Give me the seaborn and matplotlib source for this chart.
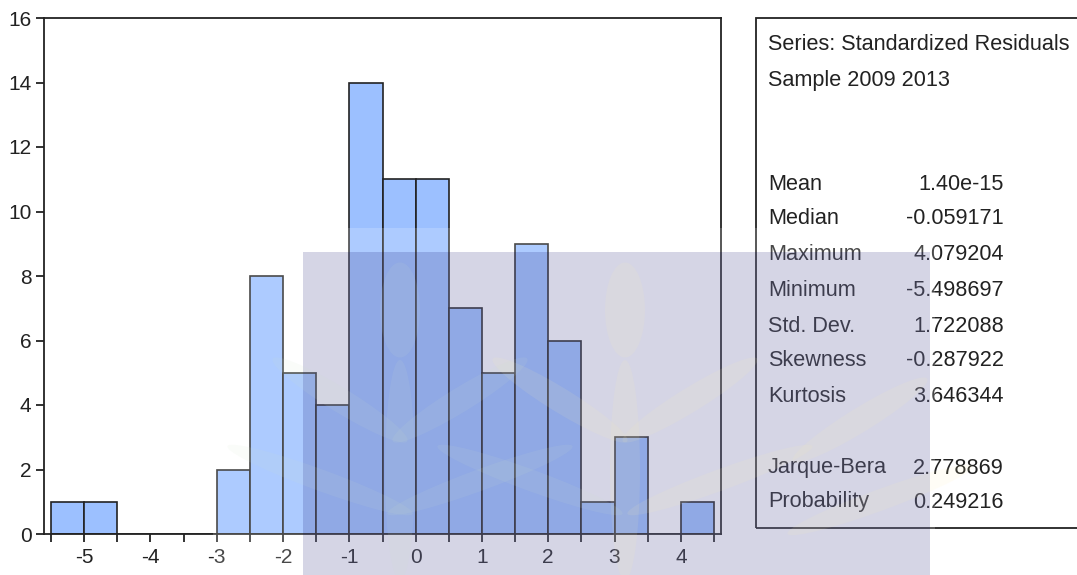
import numpy as np
import pandas as pd
import seaborn as sns
import matplotlib
matplotlib.use("Agg")
import matplotlib.pyplot as plt
from matplotlib.patches import Rectangle, Ellipse
from matplotlib import font_manager

# ---- data ----
bin_edges = [-5.5, -5.0, -4.5, -4.0, -3.5, -3.0, -2.5, -2.0, -1.5, -1.0, -0.5,
             0.0, 0.5, 1.0, 1.5, 2.0, 2.5, 3.0, 3.5, 4.0, 4.5]
counts = [1, 1, 0, 0, 0, 2, 8, 5, 4, 14, 11, 11, 7, 5, 9, 6, 1, 3, 0, 1]
stat_labels = ["Mean", "Median", "Maximum", "Minimum", "Std. Dev.", "Skewness", "Kurtosis"]
stat_values = ["1.40e-15", "-0.059171", "4.079204", "-5.498697", "1.722088", "-0.287922", "3.646344"]
test_labels = ["Jarque-Bera", "Probability"]
test_values = ["2.778869", "0.249216"]
header_lines = ["Series: Standardized Residuals", "Sample 2009 2013"]
y_ticks = [0, 2, 4, 6, 8, 10, 12, 14, 16]
x_major = [-5, -4, -3, -2, -1, 0, 1, 2, 3, 4]

sns.set_style("white")
avail = {f.name for f in font_manager.fontManager.ttflist}
fam = [f for f in ["Liberation Sans Narrow", "Liberation Sans", "DejaVu Sans"] if f in avail]
plt.rcParams["font.family"] = fam

W, H = 1077, 575
fig = plt.figure(figsize=(W / 100, H / 100), dpi=100)
ax = fig.add_axes([44 / W, 1 - 534 / H, (721 - 44) / W, (534 - 18) / H])

centers = [(bin_edges[i] + bin_edges[i + 1]) / 2 for i in range(len(counts))]
df = pd.DataFrame({"x": centers, "w": counts})
sns.histplot(data=df, x="x", weights="w", bins=bin_edges, ax=ax,
             color="#9cc0ff", alpha=1.0, edgecolor="#222222", linewidth=1.2)

ax.set_xlim(-5.5 - 7 / 66, 4.5 + 7 / 66)
ax.set_ylim(0, 16)
ax.set_xlabel("")
ax.set_ylabel("")
ax.set_yticks(y_ticks)
ax.set_yticklabels([str(v) for v in y_ticks])
ax.set_xticks(x_major)
ax.set_xticklabels([str(v) for v in x_major])
ax.set_xticks(np.arange(-5.5, 4.51, 1.0), minor=True)
ax.tick_params(axis="both", which="both", direction="out", length=6, width=1.3,
               color="#222222", labelsize=15, labelcolor="#222222")
ax.tick_params(axis="both", which="both", bottom=True, left=True, top=False, right=False)
ax.tick_params(axis="x", pad=4)
ax.tick_params(axis="y", pad=3)
for s in ax.spines.values():
    s.set_visible(True)
    s.set_color("#222222")
    s.set_linewidth(1.3)

# ---- statistics box ----
fig.patches.append(Rectangle((756 / W, 1 - 528 / H), (1100 - 756) / W, (528 - 18) / H,
                             transform=fig.transFigure, fill=False,
                             edgecolor="#222222", linewidth=1.3))
tkw = dict(fontsize=15.6, color="#222222", va="center", transform=fig.transFigure)
for txt, yy in zip(header_lines, [45, 81]):
    fig.text(768 / W, 1 - yy / H, txt, ha="left", **tkw)
for lab, val, yy in zip(stat_labels, stat_values, [185, 219, 255, 290, 326, 361, 396]):
    fig.text(768 / W, 1 - yy / H, lab, ha="left", **tkw)
    fig.text(1004 / W, 1 - yy / H, val, ha="right", **tkw)
for lab, val, yy in zip(test_labels, test_values, [468, 502]):
    fig.text(768 / W, 1 - yy / H, lab, ha="left", **tkw)
    fig.text(1004 / W, 1 - yy / H, val, ha="right", **tkw)

# ---- watermark overlay ----
fig.patches.append(Rectangle((213 / W, 0), (935 - 213) / W, (575 - 228) / H,
                             transform=fig.transFigure, facecolor="white",
                             alpha=0.18, edgecolor="none", zorder=10))
fig.patches.append(Rectangle((303 / W, 0), (930 - 303) / W, (575 - 252) / H,
                             transform=fig.transFigure, facecolor="#000063",
                             alpha=0.165, edgecolor="none", zorder=11))
leaves = [(625, 310, 40, 95, 0), (690, 400, 35, 110, -40), (560, 400, 35, 110, 40),
          (720, 480, 35, 120, -55), (530, 480, 35, 120, 55), (625, 470, 30, 220, 0),
          (400, 310, 40, 95, 0), (460, 400, 35, 110, -40), (340, 400, 35, 110, 40),
          (480, 480, 35, 120, -55), (320, 480, 35, 120, 55), (400, 470, 30, 220, 0),
          (860, 420, 35, 110, -40), (880, 500, 35, 120, -55)]
for cx, cy, ew, eh, ang in leaves:
    col = "#fff3b0" if cx > 540 else "#cfe3c8"
    fig.patches.append(Ellipse((cx / W, 1 - cy / H), ew / W, eh / H, angle=ang,
                               transform=fig.transFigure, facecolor=col,
                               alpha=0.10, edgecolor="none", zorder=12))

fig.savefig("out.png", dpi=100)
